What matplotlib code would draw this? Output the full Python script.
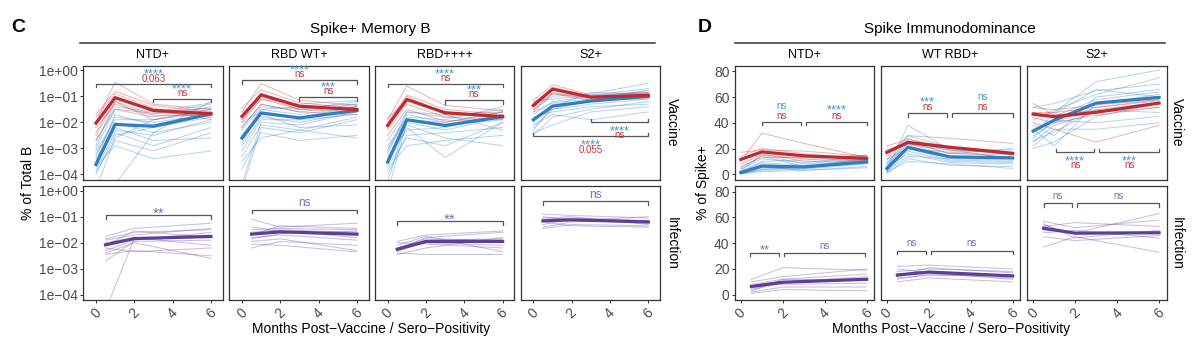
import numpy as np
import matplotlib
matplotlib.use("Agg")
import matplotlib.pyplot as plt
from matplotlib.lines import Line2D
from matplotlib.ticker import NullLocator

plt.rcParams['font.family'] = ['Liberation Sans', 'DejaVu Sans']

# ---- data -------------------------------------------------------------
vax_x = [0, 1, 3, 6]        # months post-vaccine
inf_x = [0.5, 2, 6]         # months post sero-positivity

# Spike+ memory B, log10(% of total B)
mb_panels = ["NTD+", "RBD WT+", "RBD++++", "S2+"]

mb_vax_blue_mean = {
    "NTD+": [-3.62, -2.08, -2.15, -1.68],
    "RBD WT+": [-2.60, -1.64, -1.83, -1.54],
    "RBD++++": [-3.53, -1.90, -2.12, -1.78],
    "S2+": [-1.90, -1.38, -1.18, -1.00],
}
mb_vax_red_mean = {
    "NTD+": [-2.03, -1.05, -1.54, -1.67],
    "RBD WT+": [-1.77, -0.94, -1.38, -1.51],
    "RBD++++": [-2.12, -1.12, -1.63, -1.78],
    "S2+": [-1.35, -0.72, -1.03, -0.96],
}
mb_vax_blue = {
    "NTD+": [[-4.6, -2.6, -1.9, -1.5], [-3.3, -1.8, -2.0, -1.7], [-3.0, -1.5, -1.8, -1.4],
             [-3.6, -2.3, -2.5, -1.9], [-2.9, -1.2, -1.7, -1.3], [-3.9, -2.7, -3.1, -2.4],
             [-3.2, -2.0, -2.4, -2.0], [-4.0, -2.5, -2.2, -1.8], [-3.5, -1.7, -2.1, -1.6],
             [-2.7, -1.4, -1.6, -1.25], [-3.7, -2.9, -3.4, -3.1], [-3.4, -2.2, -2.7, -2.6],
             [-4.8, -4.4, -2.4, -1.2], [-3.1, -1.9, -1.9, -1.5], [-3.8, -2.4, -2.9, -2.2]],
    "RBD WT+": [[-4.6, -2.2, -2.4, -1.9], [-2.2, -1.3, -1.6, -1.3], [-2.9, -1.8, -2.0, -1.6],
                [-3.3, -2.1, -2.3, -1.8], [-1.9, -1.1, -1.3, -1.15], [-2.5, -1.5, -1.7, -1.4],
                [-3.8, -2.4, -2.7, -2.5], [-2.7, -1.7, -2.2, -2.1], [-3.1, -1.9, -1.9, -1.7],
                [-2.3, -1.4, -1.5, -1.2], [-3.5, -2.6, -2.3, -2.6], [-2.0, -1.6, -1.8, -1.4],
                [-4.4, -2.0, -2.1, -1.6], [-2.8, -1.5, -1.4, -1.3]],
    "RBD++++": [[-4.7, -2.0, -2.3, -1.8], [-3.2, -1.7, -2.0, -1.6], [-2.7, -1.6, -1.8, -1.5],
                [-3.6, -2.2, -3.35, -2.0], [-3.0, -1.9, -2.1, -1.9], [-4.0, -2.5, -2.4, -2.2],
                [-3.4, -2.1, -2.6, -2.9], [-2.9, -1.8, -1.9, -1.4], [-3.8, -2.9, -2.7, -2.5],
                [-3.3, -2.3, -2.2, -1.7], [-4.3, -1.9, -2.0, -1.6], [-3.1, -1.6, -1.7, -2.3],
                [-3.7, -2.6, -2.9, -2.0]],
    "S2+": [[-2.5, -1.8, -1.5, -1.2], [-1.5, -1.0, -0.9, -0.5], [-2.2, -1.5, -1.3, -1.1],
            [-1.7, -1.2, -1.0, -0.8], [-2.4, -2.1, -1.6, -1.4], [-1.2, -1.1, -0.95, -0.7],
            [-2.0, -1.3, -1.2, -0.95], [-1.8, -1.6, -1.4, -1.3], [-2.3, -1.4, -0.85, -0.9],
            [-1.6, -1.25, -1.1, -1.05], [-2.1, -1.7, -1.9, -1.6], [-1.4, -0.9, -1.0, -0.85],
            [-1.9, -1.5, -1.15, -0.75]],
}
mb_vax_red = {
    "NTD+": [[-2.0, -0.45, -1.3, -1.5], [-1.7, -0.8, -1.35, -1.6], [-2.4, -1.1, -1.6, -1.8],
             [-2.2, -1.3, -1.75, -1.7], [-2.7, -1.5, -1.65, -1.45], [-1.8, -0.9, -1.45, -1.9],
             [-2.5, -1.2, -1.9, -1.6]],
    "RBD WT+": [[-1.6, -0.5, -1.15, -1.35], [-2.0, -1.1, -1.5, -1.6], [-1.45, -0.75, -1.25, -1.45],
                [-2.2, -1.3, -1.6, -1.7], [-1.8, -0.9, -1.35, -1.5], [-1.9, -1.0, -1.5, -1.4]],
    "RBD++++": [[-1.9, -0.6, -1.35, -1.55], [-2.3, -1.3, -1.8, -1.9], [-2.0, -0.95, -1.5, -1.7],
                [-2.5, -1.5, -1.95, -1.85], [-1.85, -1.15, -1.6, -1.8], [-2.2, -1.0, -1.7, -1.6]],
    "S2+": [[-1.15, -0.55, -0.95, -0.85], [-1.5, -0.85, -1.1, -1.0], [-1.3, -0.65, -1.0, -0.9],
            [-1.6, -0.9, -1.15, -1.1], [-1.25, -0.75, -1.05, -0.95]],
}
mb_inf_mean = {
    "NTD+": [-2.08, -1.84, -1.76],
    "RBD WT+": [-1.67, -1.58, -1.67],
    "RBD++++": [-2.25, -1.95, -1.95],
    "S2+": [-1.16, -1.12, -1.20],
}
mb_inf = {
    "NTD+": [[-1.75, -1.45, -1.25], [-2.3, -1.9, -1.6], [-2.0, -1.8, -2.1], [-2.45, -2.3, -2.5],
             [-1.85, -1.6, -1.5], [-2.7, -1.95, -1.9], [-2.2, -2.35, -2.2], [-1.9, -1.7, -1.45],
             [-2.4, -2.0, -2.6], [-4.6, -1.85, -1.7], [-2.1, -1.55, -1.8]],
    "RBD WT+": [[-1.1, -1.4, -1.25], [-1.5, -1.45, -1.5], [-1.8, -1.7, -1.9], [-2.2, -1.95, -2.1],
                [-1.6, -1.5, -1.6], [-1.95, -1.85, -2.3], [-1.7, -1.35, -1.45], [-2.05, -2.1, -2.35],
                [-1.4, -1.55, -1.8], [-1.85, -1.65, -1.55]],
    "RBD++++": [[-1.95, -1.7, -1.55], [-2.4, -2.45, -2.45], [-2.2, -1.85, -1.9], [-2.3, -2.0, -2.1],
                [-2.1, -1.75, -2.35], [-2.45, -2.2, -1.8], [-2.35, -1.9, -1.85], [-2.0, -2.05, -2.2],
                [-2.25, -1.8, -1.6]],
    "S2+": [[-0.9, -0.95, -1.05], [-1.45, -1.3, -1.35], [-1.1, -1.05, -1.15], [-1.3, -1.1, -1.25],
            [-1.0, -1.15, -1.0], [-1.2, -1.35, -1.4], [-1.4, -1.2, -1.15], [-1.05, -1.0, -1.3]],
}
# brackets: (x from, x to, log10 height, side, blue label, red label)
mb_vax_brackets = {
    "NTD+": [(0, 6, -0.51, 1, "****", "0.063"), (3, 6, -1.09, 1, "****", "ns")],
    "RBD WT+": [(0, 6, -0.38, 1, "****", "ns"), (3, 6, -1.03, 1, "***", "ns")],
    "RBD++++": [(0, 6, -0.51, 1, "****", "ns"), (3, 6, -1.15, 1, "***", "ns")],
    "S2+": [(3, 6, -1.99, -1, "****", "ns"), (0, 6, -2.54, -1, "****", "0.055")],
}
mb_inf_brackets = {
    "NTD+": [(0.5, 6, -0.94, "**")],
    "RBD WT+": [(0.5, 6, -0.73, "ns")],
    "RBD++++": [(0.5, 6, -1.18, "**")],
    "S2+": [(0.5, 6, -0.40, "ns")],
}

# Spike immunodominance, % of Spike+
im_panels = ["NTD+", "WT RBD+", "S2+"]

im_vax_blue_mean = {
    "NTD+": [1.3, 6.3, 5.7, 9.6],
    "WT RBD+": [4.5, 20.9, 13.5, 12.7],
    "S2+": [33.6, 42.0, 55.3, 59.7],
}
im_vax_red_mean = {
    "NTD+": [11.5, 17.4, 14.3, 12.3],
    "WT RBD+": [17.0, 24.8, 21.0, 16.2],
    "S2+": [46.7, 44.8, 48.2, 55.3],
}
im_vax_blue = {
    "NTD+": [[0.5, 3, 4, 8], [2, 9, 7, 12], [1, 5, 5, 10], [4, 12, 9, 14], [0.3, 2, 3, 6],
             [1.5, 7, 6, 11], [3, 15, 8, 13], [0.8, 4, 4.5, 9], [2.5, 10, 11, 15], [1.2, 6, 3, 5],
             [0.4, 3.5, 6, 8.5], [5, 14, 6, 12], [1.8, 8, 5.5, 10.5]],
    "WT RBD+": [[2, 18, 10, 9], [6, 25, 16, 15], [4, 38, 19, 16], [1, 12, 7, 6], [8, 28, 18, 19],
                [3, 22, 13, 12], [5, 16, 9, 8], [11, 30, 21, 17], [2.5, 14, 12, 11], [7, 24, 14, 13],
                [3.5, 20, 11, 10], [1.5, 10, 8, 4.5], [9, 26, 16, 20]],
    "S2+": [[20, 25, 45, 55], [45, 48, 72, 81], [30, 40, 52, 58], [52, 55, 65, 70], [25, 38, 48, 52],
            [38, 30, 60, 66], [28, 42, 40, 45], [42, 50, 62, 75], [35, 22, 55, 62], [22, 35, 35, 40],
            [48, 45, 58, 64], [32, 47, 66, 60], [26, 33, 50, 48]],
}
im_vax_red = {
    "NTD+": [[10, 32, 24, 13], [14, 20, 16, 12], [8, 15, 12, 11], [17, 19, 18, 14],
             [12, 16, 10, 10.5], [6, 13, 13, 14.5]],
    "WT RBD+": [[14, 30, 28, 24], [19, 24, 20, 15], [22, 27, 21, 17], [12, 20, 17, 13],
                [18, 23, 19, 12]],
    "S2+": [[52, 50, 54, 58], [44, 40, 46, 52], [55, 46, 50, 56], [40, 35, 25, 38],
            [48, 48, 52, 57]],
}
im_inf_mean = {
    "NTD+": [6.4, 9.7, 12.0],
    "WT RBD+": [15.3, 17.6, 14.6],
    "S2+": [51.6, 47.8, 48.1],
}
im_inf = {
    "NTD+": [[12, 21, 19], [5, 10, 14], [2, 6, 6], [8, 12, 16], [4, 9, 12], [1, 4, 3],
             [10, 14, 20], [7, 8, 9], [3, 12, 11]],
    "WT RBD+": [[22, 23, 20], [12, 16, 13], [18, 20, 18], [10, 13, 10], [16, 18, 14],
                [14, 21, 17], [20, 17, 12], [13, 15, 15]],
    "S2+": [[57, 52, 58], [55, 44, 50], [37, 45, 33], [50, 48, 63], [53, 56, 53],
            [45, 42, 46], [48, 50, 44], [54, 47, 48]],
}
im_vax_brackets = {
    "NTD+": [(1, 2.85, 41, 1, "ns", "ns"), (3.1, 6, 41, 1, "****", "ns")],
    "WT RBD+": [(1, 2.85, 47.5, 1, "***", "ns"), (3.1, 6, 47.5, 1, "ns", "ns")],
    "S2+": [(1.1, 2.9, 17, -1, "****", "ns"), (3.15, 6, 17, -1, "***", "ns")],
}
im_inf_brackets = {
    "NTD+": [(0.45, 1.8, 32.4, "**"), (2.05, 5.9, 32.4, "ns")],
    "WT RBD+": [(0.5, 1.85, 34, "ns"), (2.1, 6, 34, "ns")],
    "S2+": [(0.5, 1.85, 71, "ns"), (2.1, 6, 71, "ns")],
}

# ---- style -----------------------------------------------------------
RED, BLUE, PURPLE = '#BE2A30', '#2F7EC1', '#5B3F98'
T_RED, T_BLUE, T_PURPLE = '#C8363B', '#3F95D4', '#7F6DB6'
FRAME = '#333333'
TICKC = '#4D4D4D'

W, H = 1200, 344
fig = plt.figure(figsize=(W / 100, H / 100), dpi=100)


def add_box(left, top, width, bottom):
    return fig.add_axes([left / W, 1 - bottom / H, width / W, (bottom - top) / H])


def ftext(x, y, s, **kw):
    fig.text(x / W, 1 - y / H, s, **kw)


def fline(x1, x2, y):
    fig.add_artist(Line2D([x1 / W, x2 / W], [1 - y / H] * 2, color=FRAME, lw=1.1,
                          transform=fig.transFigure))


def style(ax, show_y, show_x):
    for s in ax.spines.values():
        s.set_color(FRAME)
        s.set_linewidth(0.9)
    ax.tick_params(direction='out', length=2.5, width=0.7, color=FRAME,
                   labelcolor=TICKC, labelsize=10, pad=1.5)
    ax.tick_params(axis='y', left=show_y, labelleft=show_y)
    ax.tick_params(axis='x', bottom=show_x, labelbottom=show_x)
    if show_x:
        ax.set_xticks([0, 2, 4, 6])
        for lab in ax.get_xticklabels():
            lab.set_rotation(45)
            lab.set_ha('center')
            lab.set_va('top')


def dy_px(ax, x, y, dpx):
    px = ax.transData.transform((x, y))
    return ax.transData.inverted().transform((px[0], px[1] + dpx))[1]


def bracket(ax, x1, x2, y, side):
    tip = dy_px(ax, x1, y, -3.5 * side)
    ax.plot([x1, x1, x2, x2], [tip, y, y, tip], color='#555555', lw=0.9,
            clip_on=False, solid_joinstyle='miter')


def label(ax, xm, y, text, color, center_px, size=7):
    # place the ink centre of the text center_px pixels from the bracket
    if set(text) == {'*'}:
        size = size * 1.3
        frac = 0.58
    elif any(c.isdigit() for c in text):
        frac = 0.36
    else:
        frac = 0.26
    fs_px = size / 0.72
    off = (center_px - frac * fs_px) * 0.72
    ax.annotate(text, (xm, y), xytext=(0, off), textcoords='offset points',
                ha='center', va='baseline', color=color, fontsize=size,
                annotation_clip=False)


def thin_lines(ax, x, rows, color, conv):
    for r in rows:
        ax.plot(x, conv(r), color=color, alpha=0.33, lw=0.75)


LOG = lambda v: 10.0 ** np.asarray(v, dtype=float)
LIN = lambda v: np.asarray(v, dtype=float)

C_LEFTS = [83.3, 229.3, 375.0, 520.7]
D_LEFTS = [735.0, 881.0, 1027.3]
BOX_W = 139.3
VAX_ROW = (65.7, 179.5)
INF_ROW = (186.0, 300.0)

# ---- C: Spike+ memory B (log scale) ----------------------------------
for i, name in enumerate(mb_panels):
    for row, (top, bot) in enumerate([VAX_ROW, INF_ROW]):
        ax = add_box(C_LEFTS[i], top, BOX_W, bot)
        ax.set_yscale('log')
        ax.set_xlim(-0.66, 6.61)
        ax.set_ylim(10 ** -4.2, 10 ** 0.18)
        ax.set_yticks(10.0 ** np.arange(0, -5, -1))
        ax.set_yticklabels(['1e+00', '1e\u221201', '1e\u221202', '1e\u221203', '1e\u221204'])
        ax.yaxis.set_minor_locator(NullLocator())
        style(ax, i == 0, row == 1)
        if row == 0:
            thin_lines(ax, vax_x, mb_vax_blue[name], BLUE, LOG)
            thin_lines(ax, vax_x, mb_vax_red[name], RED, LOG)
            ax.plot(vax_x, LOG(mb_vax_blue_mean[name]), color=BLUE, lw=2.3)
            ax.plot(vax_x, LOG(mb_vax_red_mean[name]), color=RED, lw=2.3)
            for x1, x2, yb, side, lb, lr in mb_vax_brackets[name]:
                y = 10.0 ** yb
                bracket(ax, x1, x2, y, side)
                xm = (x1 + x2) / 2
                if side > 0:
                    label(ax, xm, y, lr, T_RED, 5.5)
                    label(ax, xm, y, lb, T_BLUE, 14)
                else:
                    label(ax, xm, y, lb, T_BLUE, -5)
                    label(ax, xm, y, lr, T_RED, -13.5)
        else:
            thin_lines(ax, inf_x, mb_inf[name], PURPLE, LOG)
            ax.plot(inf_x, LOG(mb_inf_mean[name]), color=PURPLE, lw=2.3)
            for x1, x2, yb, lab in mb_inf_brackets[name]:
                y = 10.0 ** yb
                bracket(ax, x1, x2, y, 1)
                label(ax, (x1 + x2) / 2, y, lab, T_PURPLE, 6.5, size=8.5)

# ---- D: Spike immunodominance (linear) --------------------------------
for i, name in enumerate(im_panels):
    for row, (top, bot) in enumerate([VAX_ROW, INF_ROW]):
        ax = add_box(D_LEFTS[i], top, BOX_W, bot)
        ax.set_xlim(-0.28, 6.36)
        ax.set_ylim(-4.1, 84.4)
        ax.set_yticks([0, 20, 40, 60, 80])
        style(ax, i == 0, row == 1)
        if row == 0:
            thin_lines(ax, vax_x, im_vax_blue[name], BLUE, LIN)
            thin_lines(ax, vax_x, im_vax_red[name], RED, LIN)
            ax.plot(vax_x, im_vax_blue_mean[name], color=BLUE, lw=2.3)
            ax.plot(vax_x, im_vax_red_mean[name], color=RED, lw=2.3)
            for x1, x2, y, side, lb, lr in im_vax_brackets[name]:
                bracket(ax, x1, x2, y, side)
                xm = (x1 + x2) / 2
                if side > 0:
                    label(ax, xm, y, lr, T_RED, 5.5)
                    label(ax, xm, y, lb, T_BLUE, 15.5)
                else:
                    label(ax, xm, y, lb, T_BLUE, -5)
                    label(ax, xm, y, lr, T_RED, -13.5)
        else:
            thin_lines(ax, inf_x, im_inf[name], PURPLE, LIN)
            ax.plot(inf_x, im_inf_mean[name], color=PURPLE, lw=2.3)
            for x1, x2, y, lab in im_inf_brackets[name]:
                bracket(ax, x1, x2, y, 1)
                label(ax, (x1 + x2) / 2, y, lab, T_PURPLE, 7)

# ---- titles, strips and axis labels -----------------------------------
ftext(18, 27, 'C', fontsize=14, fontweight='bold', ha='center', va='center')
ftext(705, 27, 'D', fontsize=14, fontweight='bold', ha='center', va='center')
ftext(370, 29, 'Spike+ Memory B', fontsize=11, ha='center', va='center')
ftext(950, 29, 'Spike Immunodominance', fontsize=11, ha='center', va='center')
fline(80, 655, 43)
fline(735, 1165, 43)
for left, name in zip(C_LEFTS, mb_panels):
    ftext(left + BOX_W / 2, 55, name, fontsize=9, ha='center', va='center')
for left, name in zip(D_LEFTS, im_panels):
    ftext(left + BOX_W / 2, 55, name, fontsize=9, ha='center', va='center')
for xs in (672, 1177):
    ftext(xs, (VAX_ROW[0] + VAX_ROW[1]) / 2, 'Vaccine', fontsize=10, rotation=-90,
          ha='center', va='center')
    ftext(xs, (INF_ROW[0] + INF_ROW[1]) / 2, 'Infection', fontsize=10, rotation=-90,
          ha='center', va='center')
ftext(28, 183, '% of Total B', fontsize=10, rotation=90, ha='center', va='center')
ftext(703, 183, '% of Spike+', fontsize=10, rotation=90, ha='center', va='center')
ftext(371, 329, 'Months Post\u2212Vaccine / Sero\u2212Positivity', fontsize=10,
      ha='center', va='center')
ftext(951, 329, 'Months Post\u2212Vaccine / Sero\u2212Positivity', fontsize=10,
      ha='center', va='center')

fig.savefig('out.png', dpi=100)
